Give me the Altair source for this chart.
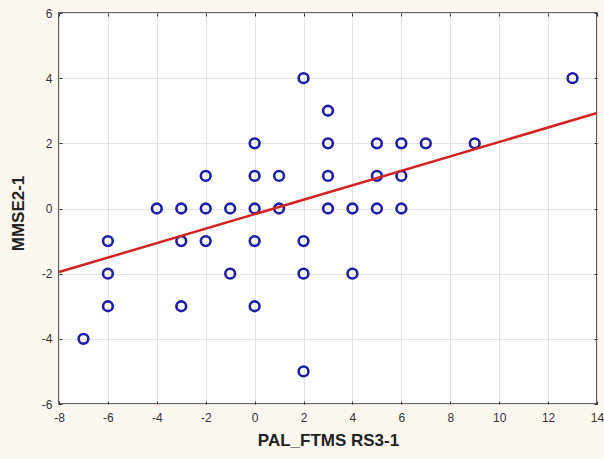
import altair as alt
import pandas as pd

# scatter values
pal_ftms = [-7, -6, -6, -6, -4, -3, -3, -3, -2, -2, -2, -1, -1,
            0, 0, 0, 0, 0, 1, 1, 2, 2, 2, 2, 3, 3, 3, 3, 4, 4,
            5, 5, 5, 6, 6, 6, 7, 9, 13]
mmse = [-4, -1, -2, -3, 0, 0, -1, -3, 1, 0, -1, 0, -2,
        2, 1, 0, -1, -3, 1, 0, 4, -1, -2, -5, 3, 2, 1, 0, 0, -2,
        2, 1, 0, 2, 1, 0, 2, 2, 4]

# fitted line end points
line_x = [-8, 14]
line_y = [-1.95, 2.93]

x_ticks = list(range(-8, 15, 2))
y_ticks = list(range(-6, 7, 2))

pts = pd.DataFrame({"x": pal_ftms, "y": mmse})
fit = pd.DataFrame({"x": line_x, "y": line_y})

FONT = "Liberation Sans"
xscale = alt.Scale(domain=[-8, 14], nice=False, zero=False)
yscale = alt.Scale(domain=[-6, 6], nice=False, zero=False)
LBL = "datum.value + ''"

points = alt.Chart(pts).mark_point(
    shape="circle", filled=False, color="#1e1ea8", size=95, strokeWidth=2.6, opacity=1
).encode(
    x=alt.X("x:Q", scale=xscale, axis=alt.Axis(
        values=x_ticks, title="PAL_FTMS RS3-1", orient="bottom", tickSize=0,
        domain=False, grid=True, gridColor="#e4e4e4", gridWidth=1,
        labelPadding=8, titlePadding=9, labelFont=FONT, labelFontSize=12,
        labelColor="#333333", titleFont=FONT, titleFontSize=17, labelExpr=LBL,
        titleFontWeight="bold", titleColor="#222222", labelFlush=False)),
    y=alt.Y("y:Q", scale=yscale, axis=alt.Axis(
        values=y_ticks, title="MMSE2-1", orient="left", tickSize=0,
        domain=False, grid=True, gridColor="#e4e4e4", gridWidth=1,
        labelPadding=7, titlePadding=14, labelFont=FONT, labelFontSize=12,
        labelColor="#333333", titleFont=FONT, titleFontSize=17, labelExpr=LBL,
        titleFontWeight="bold", titleColor="#222222", labelFlush=False,
        titleY=200)),
)

line = alt.Chart(fit).mark_line(color="#d42222", strokeWidth=2.5).encode(
    x=alt.X("x:Q", scale=xscale, axis=alt.Axis(
        values=x_ticks, orient="top", labels=False, title=None, grid=False,
        domain=False, tickSize=3, offset=-3, tickColor="#333333")),
    y=alt.Y("y:Q", scale=yscale, axis=alt.Axis(
        values=y_ticks, orient="right", labels=False, title=None, grid=False,
        domain=False, tickSize=3, offset=-3, tickColor="#333333")),
)

inner_ticks = alt.Chart(fit).mark_point(opacity=0).encode(
    x=alt.X("x:Q", scale=xscale, axis=alt.Axis(
        values=x_ticks, orient="bottom", labels=False, title=None, grid=False,
        domain=False, tickSize=3, offset=-3, tickColor="#333333")),
    y=alt.Y("y:Q", scale=yscale, axis=alt.Axis(
        values=y_ticks, orient="left", labels=False, title=None, grid=False,
        domain=False, tickSize=3, offset=-3, tickColor="#333333")),
)

chart = alt.layer(points, line, inner_ticks).resolve_axis(
    x="independent", y="independent"
).properties(
    width=538, height=391,
    background="#fcf8ef",
    padding={"left": 59, "top": 13, "right": 7, "bottom": 55},
    autosize=alt.AutoSizeParams(type="none"),
).configure_view(
    fill="white", stroke="#333333", strokeWidth=1.6
)

chart.save("out.html", embed_options={"renderer": "svg", "actions": False})
